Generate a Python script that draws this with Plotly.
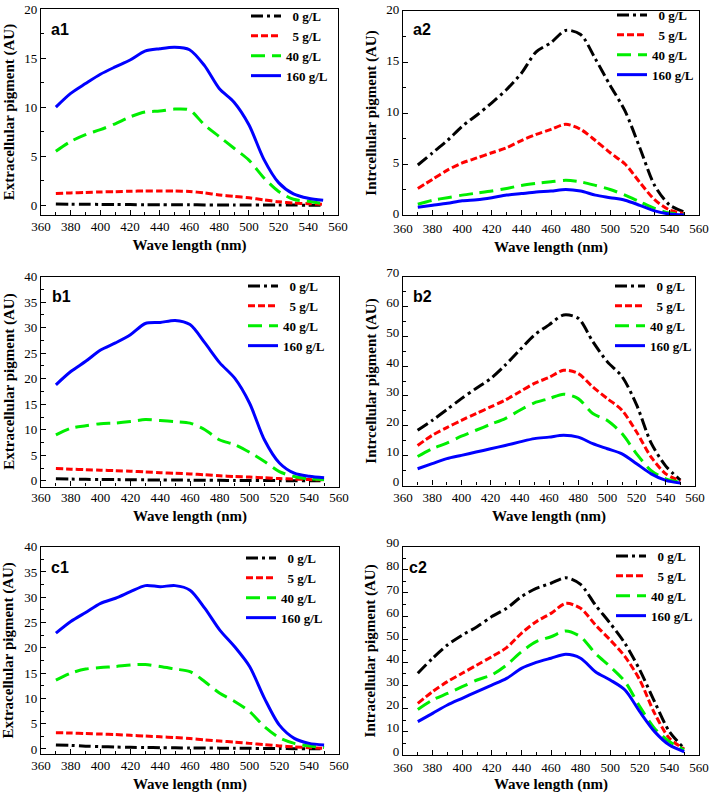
import plotly.graph_objects as go

W, H = 710, 793

wavelength = [370, 380, 390, 400, 410, 420, 430, 440, 450, 460,
              470, 480, 490, 500, 510, 520, 530, 540, 550]
series_names = ["&nbsp;&nbsp;0 g/L", "&nbsp;&nbsp;5 g/L", "40 g/L", "160 g/L"]

# ---- a1: extracellular ----
a1_0 = [0.12, 0.10, 0.09, 0.08, 0.07, 0.06, 0.05, 0.05, 0.04, 0.04, 0.03, 0.03, 0.02, 0.02, 0.02, 0.01, 0.01, 0.0, 0.0]
a1_5 = [1.2, 1.25, 1.3, 1.35, 1.38, 1.42, 1.45, 1.45, 1.45, 1.4, 1.25, 1.05, 0.9, 0.75, 0.55, 0.35, 0.22, 0.15, 0.1]
a1_40 = [5.5, 6.5, 7.2, 7.7, 8.3, 9.0, 9.5, 9.6, 9.8, 9.7, 8.2, 7.0, 5.8, 4.6, 2.8, 1.4, 0.6, 0.4, 0.15]
a1_160 = [10.0, 11.4, 12.4, 13.35, 14.1, 14.8, 15.7, 15.95, 16.1, 15.85, 14.25, 11.9, 10.5, 8.2, 4.7, 2.3, 1.15, 0.7, 0.5]

# ---- a2: intracellular ----
a2_0 = [4.9, 6.1, 7.3, 8.7, 9.8, 11.0, 12.3, 13.9, 16.0, 16.9, 18.1, 17.7, 15.3, 12.7, 10.2, 6.6, 2.9, 1.0, 0.3]
a2_5 = [2.6, 3.5, 4.4, 5.1, 5.6, 6.1, 6.6, 7.3, 7.9, 8.4, 8.9, 8.4, 7.3, 6.1, 5.0, 3.2, 1.5, 0.5, 0.15]
a2_40 = [1.05, 1.45, 1.7, 1.95, 2.15, 2.35, 2.6, 2.9, 3.1, 3.25, 3.4, 3.25, 2.9, 2.5, 1.95, 1.3, 0.65, 0.2, 0.1]
a2_160 = [0.75, 0.95, 1.15, 1.4, 1.5, 1.7, 1.95, 2.1, 2.25, 2.35, 2.5, 2.35, 1.95, 1.7, 1.45, 0.95, 0.4, 0.1, 0.0]

# ---- b1: extracellular ----
b1_0 = [0.4, 0.35, 0.3, 0.28, 0.25, 0.22, 0.2, 0.18, 0.16, 0.14, 0.12, 0.1, 0.08, 0.07, 0.06, 0.05, 0.04, 0.03, 0.02]
b1_5 = [2.4, 2.3, 2.2, 2.1, 2.0, 1.9, 1.75, 1.6, 1.5, 1.35, 1.2, 1.0, 0.85, 0.75, 0.6, 0.45, 0.35, 0.25, 0.2]
b1_40 = [9.0, 10.3, 10.8, 11.2, 11.3, 11.6, 12.0, 11.8, 11.6, 11.3, 10.0, 8.0, 7.1, 5.6, 3.8, 1.8, 0.85, 0.4, 0.2]
b1_160 = [18.8, 21.4, 23.4, 25.6, 27.0, 28.6, 30.8, 31.0, 31.4, 30.6, 27.0, 23.1, 20.1, 15.2, 8.0, 3.5, 1.5, 0.9, 0.6]

# ---- b2: intracellular ----
b2_0 = [18.5, 21.8, 25.4, 29.1, 32.5, 35.8, 40.3, 45.4, 50.4, 53.8, 57.1, 56.0, 48.2, 41.4, 36.5, 27.0, 14.2, 6.5, 1.8]
b2_5 = [13.4, 16.8, 19.4, 21.8, 24.1, 26.3, 28.6, 31.4, 34.2, 36.2, 38.6, 37.5, 33.0, 29.1, 25.2, 17.9, 9.5, 3.9, 1.5]
b2_40 = [9.7, 12.3, 14.2, 16.5, 18.5, 20.5, 22.4, 25.2, 27.7, 29.1, 30.6, 29.1, 24.1, 21.8, 17.4, 10.6, 5.0, 2.2, 1.1]
b2_160 = [5.6, 7.3, 9.0, 10.1, 11.2, 12.3, 13.4, 14.6, 15.7, 16.2, 16.8, 16.2, 14.0, 12.3, 10.6, 7.3, 3.9, 1.7, 0.8]

# ---- c1: extracellular ----
c1_0 = [0.8, 0.7, 0.55, 0.45, 0.38, 0.32, 0.28, 0.25, 0.22, 0.2, 0.18, 0.16, 0.14, 0.12, 0.1, 0.08, 0.06, 0.04, 0.03]
c1_5 = [3.2, 3.15, 3.05, 2.95, 2.85, 2.7, 2.55, 2.4, 2.25, 2.05, 1.8, 1.55, 1.35, 1.1, 0.85, 0.6, 0.4, 0.25, 0.15]
c1_40 = [13.6, 15.0, 15.8, 16.1, 16.3, 16.6, 16.7, 16.3, 15.8, 15.3, 13.3, 11.0, 9.4, 7.4, 4.4, 2.2, 1.1, 0.6, 0.3]
c1_160 = [22.9, 25.2, 27.0, 28.8, 29.8, 31.1, 32.3, 32.1, 32.3, 31.4, 27.8, 23.5, 20.2, 16.3, 10.0, 4.7, 2.1, 1.1, 0.8]

# ---- c2: intracellular ----
c2_0 = [35.3, 41.8, 47.5, 51.8, 55.4, 59.8, 63.4, 68.4, 72.0, 74.2, 76.6, 73.7, 64.8, 56.9, 48.2, 36.7, 23.0, 10.1, 2.9]
c2_5 = [22.3, 27.4, 31.7, 35.3, 38.9, 42.5, 46.4, 52.6, 57.6, 61.2, 65.5, 63.4, 56.2, 49.7, 42.5, 32.4, 18.0, 7.2, 2.6]
c2_40 = [19.7, 23.8, 26.6, 29.5, 32.4, 34.6, 38.9, 44.6, 49.0, 51.1, 53.6, 51.1, 43.9, 38.2, 31.7, 20.9, 11.5, 5.8, 2.2]
c2_160 = [14.4, 18.0, 21.6, 24.5, 27.4, 30.2, 33.1, 37.4, 40.0, 41.8, 43.5, 41.8, 36.0, 32.4, 28.1, 18.7, 10.1, 4.3, 1.4]

panel_labels = ["a1", "a2", "b1", "b2", "c1", "c2"]
y_titles = ["Extracellular pigment (AU)", "Intrcellular pigment (AU)",
            "Extracellular pigment (AU)", "Intrcellular pigment (AU)",
            "Extracellular pigment (AU)", "Intracellular pigment (AU)"]
panel_data = [
    [a1_0, a1_5, a1_40, a1_160],
    [a2_0, a2_5, a2_40, a2_160],
    [b1_0, b1_5, b1_40, b1_160],
    [b2_0, b2_5, b2_40, b2_160],
    [c1_0, c1_5, c1_40, c1_160],
    [c2_0, c2_5, c2_40, c2_160],
]
y_ranges = [[-1, 20], [0, 20], [-1.1, 40], [0, 70], [-1, 40], [0, 90]]
y_dticks = [5, 5, 5, 10, 5, 10]

# layout geometry (pixels): left, right, top, bottom of each plot box
boxes = [
    (41, 338, 9, 215), (403, 699, 11, 215),
    (41, 339, 276.5, 486.5), (403, 695, 276.5, 485.5),
    (41, 339, 546.7, 754), (403, 699, 546.7, 755),
]
# legend anchor (left px, top px) and label position (left px, center px)
legend_pos = [(246, 1), (612, 0), (243, 271), (610, 271), (241, 543), (611, 541)]
label_pos = [(49, 29), (411, 29), (50, 296), (411, 296), (49, 567), (407, 567)]
ylabel_shift = [0, -2, 0, -4, 0, -4]
xlabel_standoff = [-1, 1, -1, 0, -1, 0]

colors = ["#000000", "#ff0000", "#00ee00", "#0000ff"]
dashes = ["12px,4px,3px,4px", "7px,3px", "14px,7px", "solid"]

SERIF = "Liberation Serif"
SANS = "Liberation Sans"

def px_x(p):
    return p / W

def px_y(p):
    return 1 - p / H

fig = go.Figure()
for i in range(6):
    ax = "" if i == 0 else str(i + 1)
    leg = "legend" if i == 0 else "legend" + str(i + 1)
    for k in range(4):
        fig.add_trace(go.Scatter(
            x=wavelength, y=panel_data[i][k], mode="lines",
            name="<b>" + series_names[k] + "</b>",
            line=dict(color=colors[k], width=3, dash=dashes[k], shape="spline", smoothing=0.8),
            xaxis="x" + ax, yaxis="y" + ax, legend=leg, showlegend=True,
        ))

layout = dict(
    template="none",
    width=W, height=H, autosize=False,
    margin=dict(l=0, r=0, t=0, b=0, pad=0),
    paper_bgcolor="white", plot_bgcolor="white",
    font=dict(family=SERIF, color="black", size=13),
    hovermode=False,
)

for i in range(6):
    L, R, T, B = boxes[i]
    ax = "" if i == 0 else str(i + 1)
    layout["xaxis" + ax] = dict(
        domain=[px_x(L), px_x(R)], anchor="y" + ax, automargin=False,
        range=[360, 560], tick0=360, dtick=20,
        ticks="inside", ticklen=5, tickwidth=1.3, tickcolor="black",
        minor=dict(dtick=10, ticks="inside", ticklen=3, tickwidth=1.3, tickcolor="black"),
        showline=True, mirror=True, linecolor="black", linewidth=1.3,
        showgrid=False, zeroline=False, ticklabelstandoff=xlabel_standoff[i],
        ticklabeloverflow="allow",
        tickfont=dict(family=SERIF, size=13, color="black"),
        title=dict(text="<b>Wave length (nm)</b>", font=dict(family=SERIF, size=15, color="black"), standoff=6),
    )
    layout["yaxis" + ax] = dict(
        domain=[px_y(B), px_y(T)], anchor="x" + ax, automargin=False,
        range=y_ranges[i], tick0=0, dtick=y_dticks[i],
        ticks="inside", ticklen=5, tickwidth=1.3, tickcolor="black",
        minor=dict(dtick=y_dticks[i] / 2, ticks="inside", ticklen=3, tickwidth=1.3, tickcolor="black"),
        showline=True, mirror=True, linecolor="black", linewidth=1.3,
        showgrid=False, zeroline=False, ticklabelshift=ylabel_shift[i],
        ticklabeloverflow="allow",
        tickfont=dict(family=SERIF, size=13, color="black"),
        title=dict(text="<b>" + y_titles[i] + "</b>", font=dict(family=SERIF, size=15, color="black"), standoff=6),
    )
    lx, ly = legend_pos[i]
    leg = "legend" if i == 0 else "legend" + str(i + 1)
    layout[leg] = dict(
        x=px_x(lx), y=px_y(ly), xanchor="left", yanchor="top",
        bgcolor="rgba(0,0,0,0)", borderwidth=0, itemwidth=30,
        font=dict(family=SERIF, size=13, color="black"),
        itemclick=False, itemdoubleclick=False,
    )

annotations = []
for i in range(6):
    x, y = label_pos[i]
    annotations.append(dict(
        text="<b>" + panel_labels[i] + "</b>", x=px_x(x), y=px_y(y),
        xref="paper", yref="paper", xanchor="left", yanchor="middle",
        showarrow=False, font=dict(family=SANS, size=16, color="black"),
    ))
layout["annotations"] = annotations

fig.update_layout(**layout)
fig.write_html("out.html", config={"displayModeBar": False},
               post_script="document.body.style.margin='0px';")
